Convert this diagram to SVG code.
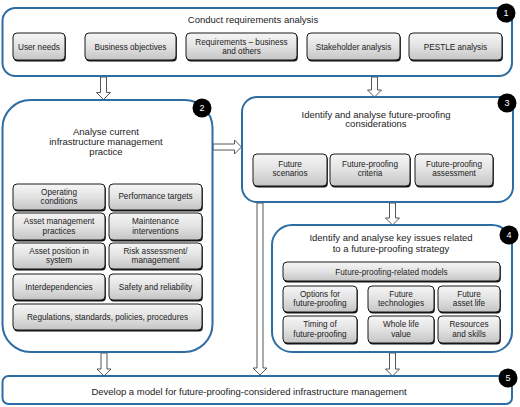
<svg xmlns="http://www.w3.org/2000/svg" width="520" height="407" viewBox="0 0 520 407">
<defs>
<linearGradient id="g" x1="0" y1="0" x2="0" y2="1">
<stop offset="0" stop-color="#f6f6f6"/>
<stop offset="0.5" stop-color="#e2e2e2"/>
<stop offset="1" stop-color="#c4c4c4"/>
</linearGradient>
<style>
.ob{fill:#fff;stroke:#2e6da4;stroke-width:2}
.sh{fill:#111}
.ib{fill:url(#g);stroke:#1a1a1a;stroke-width:1}
.t{font-family:"Liberation Sans",Arial,sans-serif;font-size:8.2px;fill:#222;text-anchor:middle}
.h{font-family:"Liberation Sans",Arial,sans-serif;font-size:9.5px;fill:#222;text-anchor:middle}
.bd{fill:#000}
.bn{font-family:"Liberation Sans",Arial,sans-serif;font-size:9px;fill:#fff;text-anchor:middle}
.ar{fill:#fff;stroke:#444;stroke-width:0.9}
</style>
</defs>
<rect width="520" height="407" fill="#fff"/>
<g id="connectors">
<polygon class="ar" points="100.5,77 106.5,77 106.5,92.5 110.5,92.5 103.5,99.5 96.5,92.5 100.5,92.5"/>
<polygon class="ar" points="371.5,77 377.5,77 377.5,90 381.5,90 374.5,97 367.5,90 371.5,90"/>
<polygon class="ar" points="213,144 234.5,144 234.5,140 241.5,147 234.5,154 234.5,150 213,150"/>
<polygon class="ar" points="101,353 107,353 107,369 111,369 104,376 97,369 101,369"/>
<polygon class="ar" points="257,203 263,203 263,368 267,368 260,375 253,368 257,368"/>
<polygon class="ar" points="389.5,203 395.5,203 395.5,218 399.5,218 392.5,225 385.5,218 389.5,218"/>
<polygon class="ar" points="389.5,353 395.5,353 395.5,369 399.5,369 392.5,376 385.5,369 389.5,369"/>
</g>
<g id="node1">
<rect class="ob" x="2.5" y="8" width="509.5" height="68" rx="13"/>
<text class="h" x="253" y="23">Conduct requirements analysis</text>
<rect class="sh" x="13.8" y="34.5" width="52" height="27" rx="4"/><rect class="ib" x="13" y="33" width="52" height="27" rx="4"/>
<text class="t" x="39" y="49.5">User needs</text>
<rect class="sh" x="85.8" y="34.5" width="91" height="27" rx="4"/><rect class="ib" x="85" y="33" width="91" height="27" rx="4"/>
<text class="t" x="130.5" y="49.5">Business objectives</text>
<rect class="sh" x="186.8" y="34.5" width="111" height="27" rx="4"/><rect class="ib" x="186" y="33" width="111" height="27" rx="4"/>
<text class="t" x="241.5" y="44.5">Requirements – business</text>
<text class="t" x="241.5" y="54">and others</text>
<rect class="sh" x="307.8" y="34.5" width="93" height="27" rx="4"/><rect class="ib" x="307" y="33" width="93" height="27" rx="4"/>
<text class="t" x="353.5" y="49.5">Stakeholder analysis</text>
<rect class="sh" x="409.8" y="34.5" width="93" height="27" rx="4"/><rect class="ib" x="409" y="33" width="93" height="27" rx="4"/>
<text class="t" x="455.5" y="49.5">PESTLE analysis</text>
<circle class="bd" cx="506" cy="13" r="9.5"/><text class="bn" x="506" y="16.2">1</text>
</g>
<g id="node2">
<rect class="ob" x="2.5" y="100" width="210" height="252" rx="28"/>
<text class="h" x="106" y="135">Analyse current</text>
<text class="h" x="106" y="145">infrastructure management</text>
<text class="h" x="106" y="155">practice</text>
<rect class="sh" x="13.8" y="185.5" width="92" height="26" rx="4"/><rect class="ib" x="13" y="184" width="92" height="26" rx="4"/>
<text class="t" x="59" y="194.5">Operating</text><text class="t" x="59" y="204">conditions</text>
<rect class="sh" x="109.8" y="185.5" width="93" height="26" rx="4"/><rect class="ib" x="109" y="184" width="93" height="26" rx="4"/>
<text class="t" x="155.5" y="199">Performance targets</text>
<rect class="sh" x="13.8" y="214.5" width="92" height="27" rx="4"/><rect class="ib" x="13" y="213" width="92" height="27" rx="4"/>
<text class="t" x="59" y="224">Asset management</text><text class="t" x="59" y="233.5">practices</text>
<rect class="sh" x="109.8" y="214.5" width="93" height="27" rx="4"/><rect class="ib" x="109" y="213" width="93" height="27" rx="4"/>
<text class="t" x="155.5" y="224">Maintenance</text><text class="t" x="155.5" y="233.5">interventions</text>
<rect class="sh" x="13.8" y="244.5" width="92" height="26" rx="4"/><rect class="ib" x="13" y="243" width="92" height="26" rx="4"/>
<text class="t" x="59" y="253.5">Asset position in</text><text class="t" x="59" y="263">system</text>
<rect class="sh" x="109.8" y="244.5" width="93" height="26" rx="4"/><rect class="ib" x="109" y="243" width="93" height="26" rx="4"/>
<text class="t" x="155.5" y="253.5">Risk assessment/</text><text class="t" x="155.5" y="263">management</text>
<rect class="sh" x="13.8" y="275.5" width="92" height="26" rx="4"/><rect class="ib" x="13" y="274" width="92" height="26" rx="4"/>
<text class="t" x="59" y="289.5">Interdependencies</text>
<rect class="sh" x="109.8" y="275.5" width="93" height="26" rx="4"/><rect class="ib" x="109" y="274" width="93" height="26" rx="4"/>
<text class="t" x="155.5" y="289.5">Safety and reliability</text>
<rect class="sh" x="13.8" y="305.5" width="189" height="26" rx="4"/><rect class="ib" x="13" y="304" width="189" height="26" rx="4"/>
<text class="t" x="107.5" y="319.5">Regulations, standards, policies, procedures</text>
<circle class="bd" cx="202" cy="108" r="9.5"/><text class="bn" x="202" y="111.2">2</text>
</g>
<g id="node3">
<rect class="ob" x="242" y="97" width="271" height="105" rx="15"/>
<text class="h" x="376" y="117.5">Identify and analyse future-proofing</text>
<text class="h" x="376" y="127">considerations</text>
<rect class="sh" x="253.8" y="155.5" width="74" height="32" rx="4"/><rect class="ib" x="253" y="154" width="74" height="32" rx="4"/>
<text class="t" x="290" y="166.5">Future</text><text class="t" x="290" y="176">scenarios</text>
<rect class="sh" x="330.8" y="155.5" width="80" height="32" rx="4"/><rect class="ib" x="330" y="154" width="80" height="32" rx="4"/>
<text class="t" x="370" y="166.5">Future-proofing</text><text class="t" x="370" y="176">criteria</text>
<rect class="sh" x="415.8" y="155.5" width="78" height="32" rx="4"/><rect class="ib" x="415" y="154" width="78" height="32" rx="4"/>
<text class="t" x="454" y="166.5">Future-proofing</text><text class="t" x="454" y="176">assessment</text>
<circle class="bd" cx="507" cy="103" r="9.5"/><text class="bn" x="507" y="106.2">3</text>
</g>
<g id="node4">
<rect class="ob" x="272" y="225" width="240" height="127" rx="20"/>
<text class="h" x="391" y="241">Identify and analyse key issues related</text>
<text class="h" x="391" y="251.5">to a future-proofing strategy</text>
<rect class="sh" x="283.8" y="263.5" width="217" height="19" rx="4"/><rect class="ib" x="283" y="262" width="217" height="19" rx="4"/>
<text class="t" x="391.5" y="274.5">Future-proofing-related models</text>
<rect class="sh" x="283.8" y="287.5" width="74" height="26" rx="4"/><rect class="ib" x="283" y="286" width="74" height="26" rx="4"/>
<text class="t" x="320" y="296.5">Options for</text><text class="t" x="320" y="306">future-proofing</text>
<rect class="sh" x="368.8" y="287.5" width="66" height="26" rx="4"/><rect class="ib" x="368" y="286" width="66" height="26" rx="4"/>
<text class="t" x="401" y="296.5">Future</text><text class="t" x="401" y="306">technologies</text>
<rect class="sh" x="438.8" y="287.5" width="62" height="26" rx="4"/><rect class="ib" x="438" y="286" width="62" height="26" rx="4"/>
<text class="t" x="469" y="296.5">Future</text><text class="t" x="469" y="306">asset life</text>
<rect class="sh" x="283.8" y="317.5" width="74" height="27" rx="4"/><rect class="ib" x="283" y="316" width="74" height="27" rx="4"/>
<text class="t" x="320" y="327">Timing of</text><text class="t" x="320" y="336.5">future-proofing</text>
<rect class="sh" x="368.8" y="317.5" width="66" height="27" rx="4"/><rect class="ib" x="368" y="316" width="66" height="27" rx="4"/>
<text class="t" x="401" y="327">Whole life</text><text class="t" x="401" y="336.5">value</text>
<rect class="sh" x="438.8" y="317.5" width="62" height="27" rx="4"/><rect class="ib" x="438" y="316" width="62" height="27" rx="4"/>
<text class="t" x="469" y="327">Resources</text><text class="t" x="469" y="336.5">and skills</text>
<circle class="bd" cx="509" cy="235" r="9.5"/><text class="bn" x="509" y="238.2">4</text>
</g>
<g id="node5">
<rect class="ob" x="2.5" y="376" width="509.5" height="28" rx="6"/>
<text class="h" x="249" y="394.5">Develop a model for future-proofing-considered infrastructure management</text>
<circle class="bd" cx="508" cy="378" r="9.5"/><text class="bn" x="508" y="381.2">5</text>
</g>
</svg>
